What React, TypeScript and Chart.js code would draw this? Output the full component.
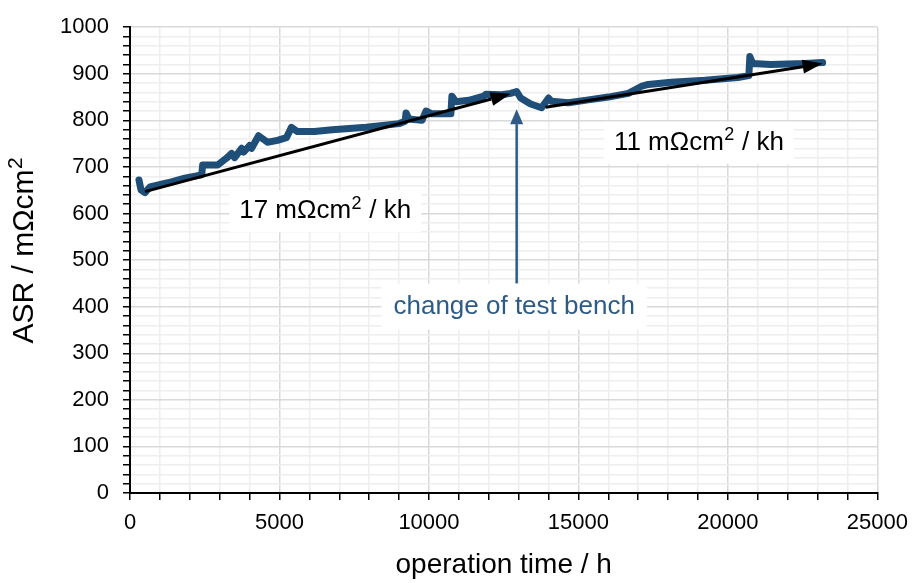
import React, { useEffect, useRef } from 'react';
import { Chart, registerables } from 'chart.js';

Chart.register(...registerables);

// ---- data ----
const hours = [
  300, 367, 500, 667, 1267, 1833, 2400, 2430, 2933, 3233, 3400, 3500, 3733, 3800, 4000, 4067,
  4300, 4600, 4933, 5233, 5400, 5600, 6167, 6767, 7900, 9000, 9200, 9233, 9333, 9767, 9900,
  10100, 10733, 10767, 10900, 11333, 11833, 11900, 12433, 12733, 12933, 13067, 13400, 13767,
  14000, 14100, 14667, 15333, 16000, 16667, 17000, 17100, 17333, 18100, 19233, 20333, 20700,
  20733, 20833, 21433, 22567, 23167,
];
const asrValues = [
  672, 651, 645, 657, 666, 676, 683, 704, 704, 719, 729, 720, 740, 732, 746, 740,
  767, 753, 757, 763, 785, 776, 776, 780, 785, 793, 798, 816, 803, 800, 820,
  814, 814, 852, 840, 843, 852, 856, 855, 858, 862, 848, 835, 827,
  848, 841, 838, 844, 850, 858, 869, 873, 877, 882, 886, 892, 896,
  937, 922, 920, 922, 924,
];

// trend arrows (data coordinates)
const trend1X = [500, 12733];
const trend1Y = [647, 857];
const trend2X = [13900, 23167];
const trend2Y = [828, 922];
// test bench change arrow
const benchX = [12933, 12933];
const benchY = [450, 824];

const rate1 = ['17 mΩcm', '2', ' / kh'];
const rate2 = ['11 mΩcm', '2', ' / kh'];
const benchText = 'change of test bench';

const xTitle = 'operation time / h';
const yTitleParts = ['ASR / mΩcm', '2', ''];
const xMin = 0, xMax = 25000, xMinor = 1000, xMajor = 5000;
const yMin = 0, yMax = 1000, yMinor = 20, yMajor = 100;

const FONT = "'Liberation Sans', Arial, sans-serif";
const BLUE = '#1f4e79';
const BENCH_BLUE = '#2e5b86';

function drawArrow(ctx: CanvasRenderingContext2D, x1: number, y1: number, x2: number, y2: number,
  color: string, width: number, headLen: number, headW: number) {
  const ang = Math.atan2(y2 - y1, x2 - x1);
  const bx = x2 - headLen * Math.cos(ang);
  const by = y2 - headLen * Math.sin(ang);
  ctx.save();
  ctx.strokeStyle = color;
  ctx.fillStyle = color;
  ctx.lineWidth = width;
  ctx.beginPath();
  ctx.moveTo(x1, y1);
  ctx.lineTo(bx, by);
  ctx.stroke();
  ctx.beginPath();
  ctx.moveTo(x2, y2);
  ctx.lineTo(bx + (headW / 2) * Math.sin(ang), by - (headW / 2) * Math.cos(ang));
  ctx.lineTo(bx - (headW / 2) * Math.sin(ang), by + (headW / 2) * Math.cos(ang));
  ctx.closePath();
  ctx.fill();
  ctx.restore();
}

// draws text with a superscript part, starting at x (left) and vertically centred at cy
function drawSup(ctx: CanvasRenderingContext2D, x: number, cy: number, parts: string[], size: number, color: string) {
  const main = `${size}px ${FONT}`;
  const sup = `${Math.round(size * 0.7)}px ${FONT}`;
  ctx.fillStyle = color;
  ctx.textBaseline = 'middle';
  ctx.textAlign = 'left';
  ctx.font = main;
  const w1 = ctx.measureText(parts[0]).width;
  ctx.fillText(parts[0], x, cy);
  ctx.font = sup;
  const w2 = ctx.measureText(parts[1]).width + 1;
  ctx.fillText(parts[1], x + w1 + 0.5, cy - size * 0.28);
  ctx.font = main;
  if (parts[2]) ctx.fillText(parts[2], x + w1 + w2, cy);
}

function measureSup(ctx: CanvasRenderingContext2D, parts: string[], size: number) {
  ctx.font = `${size}px ${FONT}`;
  const w1 = ctx.measureText(parts[0]).width;
  const w3 = ctx.measureText(parts[2]).width;
  ctx.font = `${Math.round(size * 0.7)}px ${FONT}`;
  const w2 = ctx.measureText(parts[1]).width + 1;
  return w1 + w2 + w3;
}

function drawRate(ctx: CanvasRenderingContext2D, cx: number, cy: number, parts: string[], size: number) {
  ctx.save();
  const total = measureSup(ctx, parts, size);
  const padX = 10, padY = 8;
  ctx.fillStyle = '#ffffff';
  ctx.fillRect(cx - total / 2 - padX, cy - size / 2 - padY, total + 2 * padX, size + 2 * padY);
  drawSup(ctx, cx - total / 2, cy, parts, size, '#000');
  ctx.restore();
}

const annotPlugin = {
  id: 'annot',
  beforeDatasetsDraw(chart: any) {
    const { ctx, scales } = chart;
    const xs = scales.x, ys = scales.y;
    drawRate(ctx, xs.getPixelForValue(6530), ys.getPixelForValue(605), rate1, 26);
    drawRate(ctx, xs.getPixelForValue(19030), ys.getPixelForValue(752), rate2, 26);
    // bench text
    ctx.save();
    ctx.font = `26px ${FONT}`;
    const tw = ctx.measureText(benchText).width;
    const cx = xs.getPixelForValue(12850);
    const cy = ys.getPixelForValue(400);
    ctx.fillStyle = '#fff';
    ctx.fillRect(cx - tw / 2 - 12, cy - 13 - 10, tw + 24, 26 + 20);
    ctx.fillStyle = BENCH_BLUE;
    ctx.textAlign = 'center';
    ctx.textBaseline = 'middle';
    ctx.fillText(benchText, cx, cy);
    ctx.restore();
  },
  afterDatasetsDraw(chart: any) {
    const { ctx, scales } = chart;
    const xs = scales.x, ys = scales.y;
    drawArrow(ctx, xs.getPixelForValue(trend1X[0]), ys.getPixelForValue(trend1Y[0]),
      xs.getPixelForValue(trend1X[1]), ys.getPixelForValue(trend1Y[1]), '#000', 3, 20, 14);
    drawArrow(ctx, xs.getPixelForValue(trend2X[0]), ys.getPixelForValue(trend2Y[0]),
      xs.getPixelForValue(trend2X[1]), ys.getPixelForValue(trend2Y[1]), '#000', 3, 20, 14);
    drawArrow(ctx, xs.getPixelForValue(benchX[0]), ys.getPixelForValue(benchY[0]),
      xs.getPixelForValue(benchX[1]), ys.getPixelForValue(benchY[1]), BENCH_BLUE, 2.5, 15, 13);
  },
  afterDraw(chart: any) {
    // y-axis title with a real superscript
    const { ctx, chartArea } = chart;
    ctx.save();
    const size = 30;
    const total = measureSup(ctx, yTitleParts, size);
    const cy = (chartArea.top + chartArea.bottom) / 2 - 10;
    ctx.translate(25, cy + total / 2);
    ctx.rotate(-Math.PI / 2);
    drawSup(ctx, 0, 0, yTitleParts, size, '#000');
    ctx.restore();
  },
};

export default function App() {
  const ref = useRef<HTMLCanvasElement>(null);
  useEffect(() => {
    if (!ref.current) return;
    const chart = new Chart(ref.current, {
      type: 'line',
      data: {
        datasets: [{
          data: hours.map((h, i) => ({ x: h, y: asrValues[i] })),
          borderColor: BLUE,
          backgroundColor: BLUE,
          borderWidth: 7,
          borderCapStyle: 'round',
          borderJoinStyle: 'round',
          pointRadius: 0,
          tension: 0,
        }],
      },
      options: {
        animation: false,
        responsive: true,
        maintainAspectRatio: false,
        layout: { padding: { top: 20, right: 38, left: 0, bottom: 0 } },
        plugins: { legend: { display: false }, tooltip: { enabled: false } },
        scales: {
          x: {
            type: 'linear', min: xMin, max: xMax,
            afterFit: (s: any) => { s.height = 90; },
            ticks: {
              stepSize: xMinor, autoSkip: false, maxRotation: 0, padding: 10,
              color: '#000', font: { family: FONT, size: 22 },
              callback: (v: any) => (v % xMajor === 0 ? String(v) : ''),
            },
            grid: {
              color: (c: any) => (c.tick && c.tick.value % xMajor === 0 ? '#d9d9d9' : '#eeeeee'),
              lineWidth: 1.5, tickColor: '#000', tickLength: 7, tickWidth: 1.5,
            },
            border: { color: '#000', width: 2 },
            title: { display: true, text: xTitle, color: '#000', font: { family: FONT, size: 28 }, padding: { top: 0, bottom: 1 } },
          },
          y: {
            type: 'linear', min: yMin, max: yMax,
            afterFit: (s: any) => { s.width = 130; },
            ticks: {
              stepSize: yMinor, autoSkip: false, padding: 14,
              color: '#000', font: { family: FONT, size: 22 },
              callback: (v: any) => (v % yMajor === 0 ? String(v) : ''),
            },
            grid: {
              color: (c: any) => (c.tick && c.tick.value % yMajor === 0 ? '#d9d9d9' : '#eeeeee'),
              lineWidth: 1.5, tickColor: '#000', tickLength: 7, tickWidth: 1.5,
            },
            border: { color: '#000', width: 2 },
            title: { display: false },
          },
        },
      },
      plugins: [annotPlugin],
    } as any);
    return () => chart.destroy();
  }, []);
  return (
    <div style={{ position: 'fixed', left: 0, top: 0, width: 918, height: 583, background: '#fff' }}>
      <canvas ref={ref} />
    </div>
  );
}
